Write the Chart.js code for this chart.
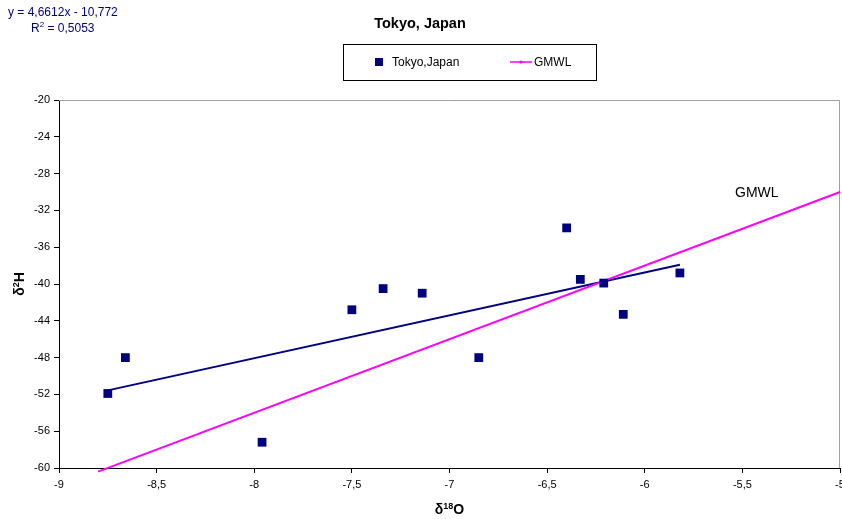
<!DOCTYPE html>
<html>
<head>
<meta charset="utf-8">
<script src="https://cdn.jsdelivr.net/npm/chart.js@4/dist/chart.umd.min.js"></script>
<style>
html,body{margin:0;padding:0;background:#fff;}
#wrap{width:842px;height:519px;}
</style>
</head>
<body>
<div id="wrap"><canvas id="c" width="842" height="519"></canvas></div>
<script>
// ---- data ----
const chartTitle = 'Tokyo, Japan';
const seriesNames = ['Tokyo,Japan', 'GMWL'];
const tokyoX = [-8.75, -8.66, -7.96, -7.50, -7.34, -7.14, -6.85, -6.40, -6.33, -6.21, -6.11, -5.82];
const tokyoY = [-51.9, -48.0, -57.2, -42.8, -40.5, -41.0, -48.0, -33.9, -39.5, -39.9, -43.3, -38.8];
const trendX = [-8.75, -5.82];
const trendY = [-51.56, -37.90];
const gmwlX = [-8.8, -5.0];
const gmwlY = [-60.4, -30.0];
const xTicks = [-9, -8.5, -8, -7.5, -7, -6.5, -6, -5.5, -5];
const yTicks = [-20, -24, -28, -32, -36, -40, -44, -48, -52, -56, -60];
const equationText = 'y = 4,6612x - 10,772';
const r2Value = '0,5053';
const gmwlLabel = 'GMWL';

const FONT = '"Liberation Sans", Arial, Helvetica, sans-serif';
const NAVY = '#000080';
const MAGENTA = '#FF00FF';

const toPts = (xs, ys) => xs.map((x, i) => ({x: x, y: ys[i]}));
const fmt = v => String(v).replace('.', ',');

function drawParts(ctx, parts, x, y, align, bold, color) {
  ctx.save();
  ctx.fillStyle = color;
  ctx.textBaseline = 'alphabetic';
  let total = 0;
  parts.forEach(p => { ctx.font = (bold ? 'bold ' : '') + p[1] + 'px ' + FONT; total += ctx.measureText(p[0]).width; });
  let cx = align === 'center' ? x - total / 2 : x;
  parts.forEach(p => {
    ctx.font = (bold ? 'bold ' : '') + p[1] + 'px ' + FONT;
    ctx.textAlign = 'left';
    ctx.fillText(p[0], cx, y - p[2]);
    cx += ctx.measureText(p[0]).width;
  });
  ctx.restore();
}

const decor = {
  id: 'decor',
  beforeDatasetsDraw(chart) {
    const {ctx, chartArea: a} = chart;
    ctx.save();
    ctx.strokeStyle = '#a0a0a0';
    ctx.lineWidth = 1;
    ctx.beginPath();
    ctx.moveTo(a.left, Math.round(a.top) + 0.5);
    ctx.lineTo(Math.round(a.right) - 0.5, Math.round(a.top) + 0.5);
    ctx.lineTo(Math.round(a.right) - 0.5, a.bottom);
    ctx.stroke();
    ctx.restore();
  },
  afterDraw(chart) {
    const {ctx} = chart;
    drawParts(ctx, [[equationText, 12, 0]], 8, 15.5, 'left', false, NAVY);
    drawParts(ctx, [['R', 12, 0], ['2', 8, 5], [' = ' + r2Value, 12, 0]], 31, 31.5, 'left', false, NAVY);
    ctx.save();
    ctx.strokeStyle = '#000';
    ctx.lineWidth = 1;
    ctx.strokeRect(343.5, 44.5, 253, 36);
    ctx.fillStyle = NAVY;
    ctx.fillRect(375, 58, 8, 8);
    ctx.strokeStyle = MAGENTA;
    ctx.lineWidth = 1.5;
    ctx.beginPath(); ctx.moveTo(510, 62); ctx.lineTo(532, 62); ctx.stroke();
    ctx.fillStyle = MAGENTA;
    ctx.beginPath(); ctx.arc(521, 62, 1.6, 0, Math.PI * 2); ctx.fill();
    ctx.fillStyle = '#000';
    ctx.font = '12px ' + FONT;
    ctx.textBaseline = 'middle';
    ctx.textAlign = 'left';
    ctx.fillText(seriesNames[0], 392, 62.5);
    ctx.fillText(seriesNames[1], 534, 62.5);
    ctx.font = '14px ' + FONT;
    ctx.fillText(gmwlLabel, 735, 193.5);
    ctx.restore();
    drawParts(ctx, [['δ', 14, 0], ['18', 9, 5], ['O', 14, 0]], 449.5, 514, 'center', true, '#000');
    ctx.save();
    ctx.translate(24, 284);
    ctx.rotate(-Math.PI / 2);
    drawParts(ctx, [['δ', 14, 0], ['2', 9, 5], ['H', 14, 0]], 0, 0, 'center', true, '#000');
    ctx.restore();
  }
};

new Chart(document.getElementById('c'), {
  type: 'scatter',
  data: {
    datasets: [
      {
        label: seriesNames[0],
        data: toPts(tokyoX, tokyoY),
        showLine: false,
        pointStyle: 'rect',
        pointRadius: 6.2,
        pointBackgroundColor: NAVY,
        pointBorderColor: NAVY,
        pointBorderWidth: 0,
        order: 1
      },
      {
        label: 'trend',
        data: toPts(trendX, trendY),
        showLine: true,
        borderColor: NAVY,
        borderWidth: 2,
        pointRadius: 0,
        fill: false,
        order: 3
      },
      {
        label: seriesNames[1],
        data: toPts(gmwlX, gmwlY),
        showLine: true,
        borderColor: MAGENTA,
        borderWidth: 2,
        pointRadius: 0,
        fill: false,
        clip: false,
        order: 2
      }
    ]
  },
  options: {
    responsive: false,
    animation: false,
    devicePixelRatio: 1,
    layout: {autoPadding: false, padding: {left: 0, right: 2, top: 0, bottom: 0}},
    plugins: {
      legend: {display: false},
      tooltip: {enabled: false},
      title: {
        display: true,
        text: chartTitle,
        color: '#000',
        font: {family: FONT, size: 14.5, weight: 'bold', lineHeight: 1.2},
        padding: {top: 15.3, bottom: 67.3}
      }
    },
    scales: {
      x: {
        type: 'linear',
        min: xTicks[0],
        max: xTicks[xTicks.length - 1],
        afterBuildTicks: s => { s.ticks = xTicks.map(v => ({value: v})); },
        afterFit: s => { s.height = 51; s.paddingLeft = 0; s.paddingRight = 0; },
        ticks: {
          color: '#000',
          font: {family: FONT, size: 11},
          padding: 5,
          maxRotation: 0,
          autoSkip: false,
          callback: v => fmt(v)
        },
        grid: {display: true, drawOnChartArea: false, drawTicks: true, tickLength: 5, color: '#000'},
        border: {display: true, color: '#000', width: 1}
      },
      y: {
        type: 'linear',
        min: -60,
        max: -20,
        afterBuildTicks: s => { s.ticks = yTicks.map(v => ({value: v})); },
        afterFit: s => { s.width = 59; s.paddingTop = 0; s.paddingBottom = 0; },
        ticks: {
          color: '#000',
          font: {family: FONT, size: 11},
          padding: 4,
          autoSkip: false,
          callback: v => fmt(v)
        },
        grid: {display: true, drawOnChartArea: false, drawTicks: true, tickLength: 5, color: '#000'},
        border: {display: true, color: '#000', width: 1}
      }
    }
  },
  plugins: [decor]
});
</script>
</body>
</html>
